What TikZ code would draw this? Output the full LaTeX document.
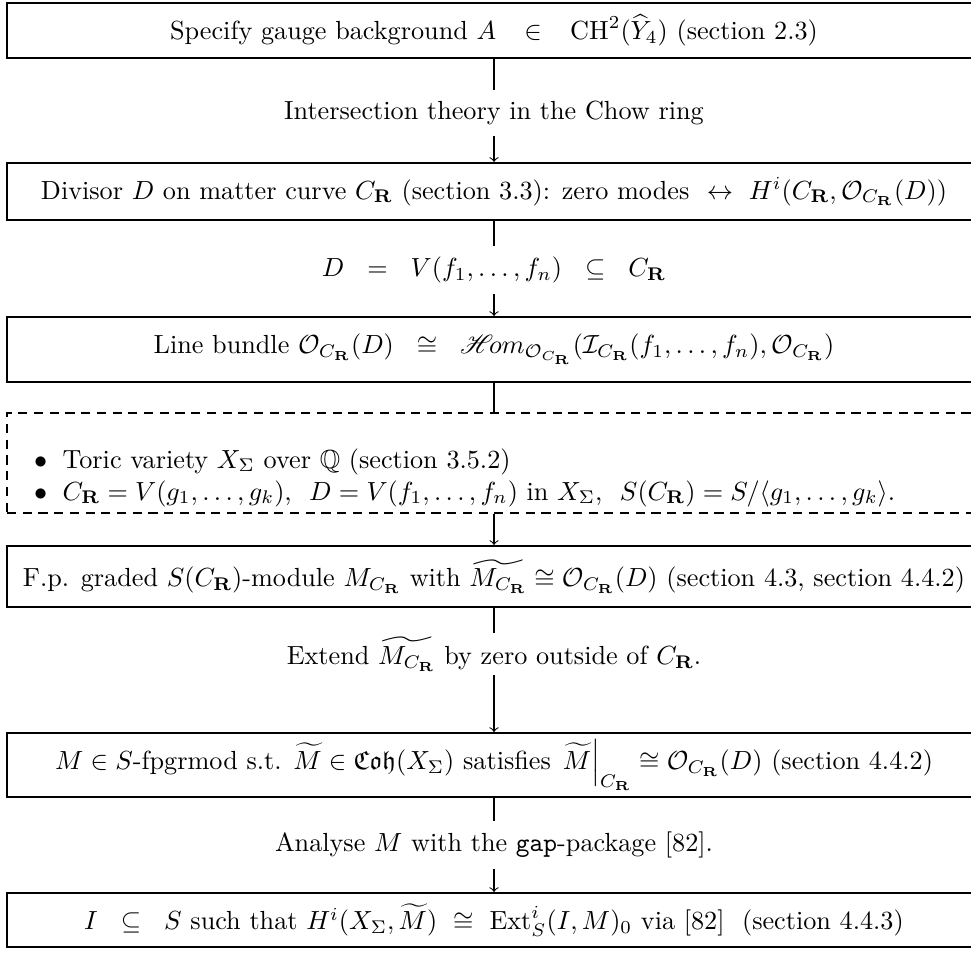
\documentclass[tikz,border=0pt]{standalone}
\usepackage{amsmath,amssymb}
\usepackage{mathrsfs}

\newcommand{\CR}{C_{\mathbf{R}}}
\newcommand{\OCR}{\mathcal{O}_{\CR}}
\newcommand{\gp}{\hspace{6pt}}
\newcommand{\wgp}{\hspace{8pt}}

\tikzset{
  stepbox/.style={draw, line width=0.8pt, minimum width=371.8pt, inner sep=0pt},
  optbox/.style={draw, dashed, dash pattern=on 3.5pt off 2.5pt, line width=0.8pt,
    minimum width=371.8pt, inner sep=0pt},
  steplabel/.style={inner sep=4pt},
  item/.style={anchor=base west, inner sep=0pt},
}

\begin{document}
\begin{tikzpicture}[x=0.3817pt, y=-0.3817pt]
  \useasboundingbox (0,0) rectangle (971,958);

  \node[stepbox, minimum height=21pt] (gauge) at (494,30.5)
    {Specify gauge background $A \wgp\in\wgp \mathrm{CH}^2(\widehat{Y}_4)$ (section 2.3)};
  \node[steplabel] (chow) at (494,113) {Intersection theory in the Chow ring};

  \node[stepbox, minimum height=21.8pt] (divisor) at (494,191.5)
    {Divisor $D$ on matter curve $\CR$ (section 3.3): zero modes $\ \leftrightarrow\ H^i(\CR,\OCR(D))$};
  \node[steplabel] (ideal) at (494,270) {$D \gp=\gp V(f_1,\ldots,f_n) \gp\subseteq\gp \CR$};

  \node[stepbox, minimum height=24.8pt] (bundle) at (494,349.5)
    {Line bundle $\OCR(D) \gp\cong\gp \mathscr{H}\!om_{\OCR}(\mathcal{I}_{\CR}(f_1,\ldots,f_n),\OCR)$};

  \node[optbox, minimum height=38.2pt] (toric) at (494,463) {};
  \node[item] (toricA) at (33.5,468)
    {$\bullet$\hspace{5.9pt}Toric variety $X_\Sigma$ over $\mathbb{Q}$ (section 3.5.2)};
  \node[item] (toricB) at (33.5,500)
    {$\bullet$\hspace{5.9pt}$\CR = V(g_1,\ldots,g_k)$,\ \ $D = V(f_1,\ldots,f_n)$ in $X_\Sigma$,\ \ $S(\CR) = S/\langle g_1,\ldots,g_k\rangle$.};

  \node[stepbox, minimum height=23.3pt] (module) at (494,576.5)
    {F.p. graded $S(\CR)$-module $M_{\CR}$ with $\widetilde{M_{\CR}} \cong \OCR(D)$ (section 4.3, section 4.4.2)};
  \node[steplabel, inner sep=1.5pt] (extend) at (494,654) {Extend $\widetilde{M_{\CR}}$ by zero outside of $\CR$.};

  \node[stepbox, minimum height=24.4pt] (sheaf) at (494,765)
    {$M \in S$-fpgrmod s.t. $\widetilde{M} \in \mathfrak{Coh}(X_\Sigma)$ satisfies $\left.\widetilde{M}\right|_{\CR} \cong \OCR(D)$ (section 4.4.2)};
  \node[steplabel] (gap) at (494,845) {Analyse $M$ with the \texttt{gap}-package [82].};

  \node[stepbox, minimum height=20.6pt] (ext) at (494,920)
    {$I \gp\subseteq\gp S$ such that $H^i(X_\Sigma,\widetilde{M}) \ \cong\ \mathrm{Ext}^i_S(I,M)_0$ via [82] \ (section 4.4.3)};

  \draw (gauge) -- (chow);
  \draw[->] (chow) -- (divisor);
  \draw (divisor) -- (ideal);
  \draw[->] (ideal) -- (bundle);
  \draw (bundle) -- (toric);
  \draw[->] (toric) -- (module);
  \draw (module) -- (extend);
  \draw[->] (extend) -- (sheaf);
  \draw (sheaf) -- (gap);
  \draw[->] (gap) -- (ext);
\end{tikzpicture}
\end{document}
